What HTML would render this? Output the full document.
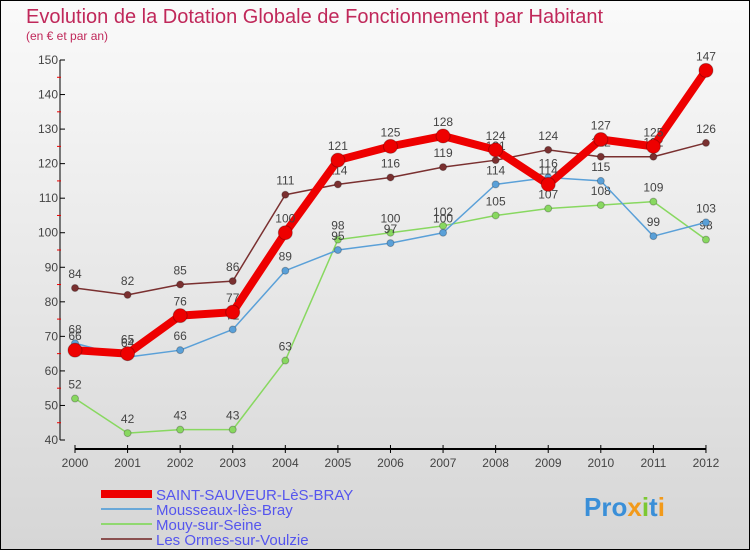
<!DOCTYPE html>
<html><head><meta charset="utf-8"><style>
body{margin:0}
#c{position:relative;width:748px;height:548px;border:1px solid #000;background:linear-gradient(#fafafa,#d6d6d6);font-family:"Liberation Sans",sans-serif;overflow:hidden}
</style></head><body>
<div id="c">
<svg id="s" width="748" height="548" xmlns="http://www.w3.org/2000/svg">
<text x="25" y="22" font-size="20" fill="#c0285a">Evolution de la Dotation Globale de Fonctionnement par Habitant</text>
<text x="25" y="39" font-size="12" fill="#c0285a">(en € et par an)</text>
<g id="axes"></g><g id="series"></g>
<g id="legend" font-size="15" fill="#5555ee"></g>
<text x="583" y="515" font-size="26" font-weight="bold" fill="#3a8fd8">Pro<tspan fill="#f29a1a">x</tspan><tspan fill="#7cc832">i</tspan>t<tspan fill="#f29a1a">i</tspan></text>
</svg></div>
<script>
const years=[2000,2001,2002,2003,2004,2005,2006,2007,2008,2009,2010,2011,2012];
const yTicks=[40,50,60,70,80,90,100,110,120,130,140,150];
const saint=[66,65,76,77,100,121,125,128,124,114,127,125,147];
const mousseaux=[68,64,66,72,89,95,97,100,114,116,115,99,103];
const mouy=[52,42,43,43,63,98,100,102,105,107,108,109,98];
const ormes=[84,82,85,86,111,114,116,119,121,124,122,122,126];
const NS='http://www.w3.org/2000/svg';
const X=i=>74+i*52.58, Y=v=>439-(v-40)*3.4545;
function mk(t,a,p){const e=document.createElementNS(NS,t);for(const k in a)e.setAttribute(k,a[k]);p.appendChild(e);return e;}
const ax=document.getElementById('axes');
let l=mk('line',{x1:59,y1:Y(150),x2:59,y2:Y(40),stroke:'#000'},ax);


l=mk('line',{x1:X(0),y1:448,x2:X(12),y2:448,stroke:'#000',"stroke-width":2},ax);


yTicks.forEach((v,i)=>{
 mk('line',{x1:59,y1:Y(v),x2:64,y2:Y(v),stroke:'#000'},ax);
 if(i<yTicks.length-1) mk('line',{x1:56,y1:Y(v+5),x2:60,y2:Y(v+5),stroke:'#e00'},ax);
 const t=mk('text',{x:57,y:Y(v)+4,"font-size":12,"text-anchor":"end",fill:'#444'},ax);t.textContent=v;
 
 
});
years.forEach((y,i)=>{
 mk('line',{x1:X(i),y1:444,x2:X(i),y2:452,stroke:'#000'},ax);
 const t=mk('text',{x:X(i),y:466,"font-size":12,"text-anchor":"middle",fill:'#444'},ax);t.textContent=y;
 
 
});
const sg=document.getElementById('series');
function draw(data,color,w,r,name){
 const g=mk('g',{},sg);
 
 
 mk('polyline',{points:data.map((v,i)=>X(i)+','+Y(v)).join(' '),fill:'none',stroke:color,"stroke-width":w,"stroke-linejoin":"round"},g);
 data.forEach((v,i)=>{
  const c=mk('circle',{cx:X(i),cy:Y(v),r:r,fill:color,stroke:'rgba(0,0,0,0.25)'},g);
  
  
  const t=mk('text',{x:X(i),y:Y(v)-10,"font-size":12,"text-anchor":"middle",fill:'#444'},g);t.textContent=v;
 });
}
draw(mouy,'#88d860',1.5,3.5,'mouy-series');
draw(mousseaux,'#5aa0d8',1.5,3.5,'mousseaux-series');
draw(ormes,'#7a3030',1.5,3.5,'ormes-series');
draw(saint,'#ee0000',8,7,'saint-sauveur-series');
const lg=document.getElementById('legend');
const leg=[['SAINT-SAUVEUR-LèS-BRAY','#ee0000',8],['Mousseaux-lès-Bray','#6aa8d8',2],['Mouy-sur-Seine','#90d870',2],['Les Ormes-sur-Voulzie','#8a5050',2]];
leg.forEach((e,i)=>{
 const y=493+i*15;
 const g=mk('g',{},lg);
 
 
 mk('line',{x1:100,y1:y,x2:151,y2:y,stroke:e[1],"stroke-width":e[2]},g);
 const t=mk('text',{x:155,y:y+6,"font-size":15},g);t.textContent=e[0];
});
</script>
</body></html>
